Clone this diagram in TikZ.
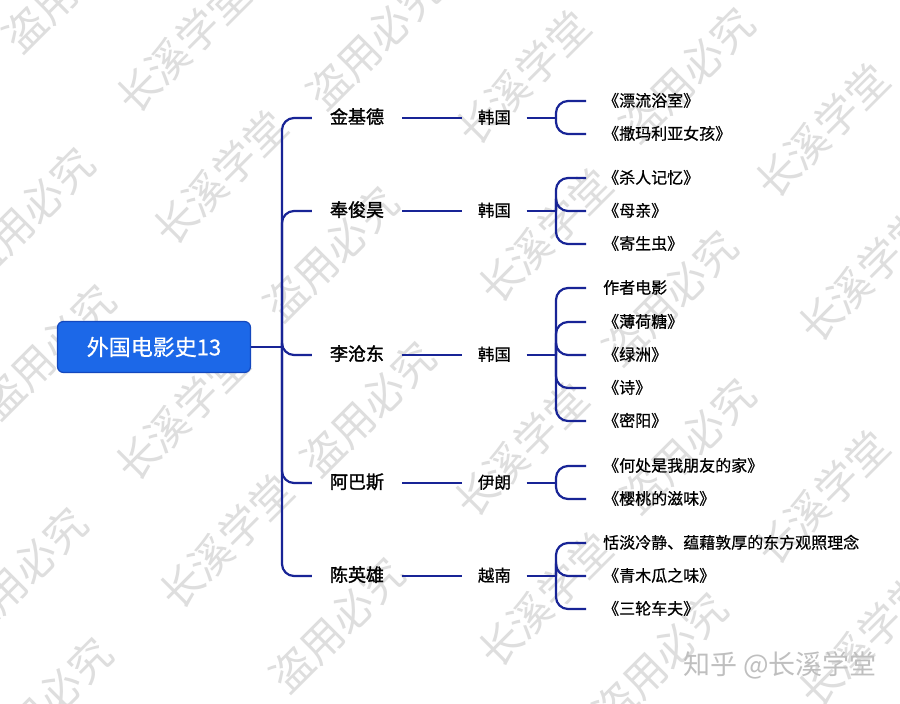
\documentclass[tikz,border=0pt]{standalone}
\usepackage{fontspec}
\setmainfont{Noto Sans CJK SC}
\newfontfamily\cjkbold[FakeBold=1.6]{Noto Sans CJK SC}
\newfontfamily\cjkmed[FakeBold=0.6]{Noto Sans CJK SC}
\usetikzlibrary{positioning}
\definecolor{mapline}{RGB}{24,36,150}
\definecolor{rootblue}{RGB}{28,104,232}
\definecolor{rootedge}{RGB}{20,72,190}
\tikzset{
  rootbox/.style={draw=rootedge,fill=rootblue,rounded corners=6pt,line width=1.2pt,
    text=white,font=\cjkmed\fontsize{22}{22}\selectfont,minimum width=193pt,minimum height=51pt,inner sep=0pt},
  person/.style={font=\cjkbold\fontsize{18}{18}\selectfont,inner xsep=18pt,inner ysep=0pt,
    text height=1.1em,text depth=0em},
  country/.style={font=\cjkmed\fontsize{16.5}{16.5}\selectfont,inner xsep=15.5pt,inner ysep=0pt,
    text height=1.1em,text depth=0em},
  film/.style={anchor=west,font=\cjkmed\fontsize{16}{16}\selectfont,inner xsep=17pt,inner ysep=0pt,
    text height=1.1em,text depth=0em},
  branch/.style={draw=mapline,line width=2.2pt,rounded corners=12pt},
  wm/.style={text=black!13,font=\fontsize{42}{42}\selectfont,rotate=45,inner sep=0pt}
}

\begin{document}
\begin{tikzpicture}[x=1pt,y=-1pt]
  \fill[white] (0,0) rectangle (900,704);
  \clip (0,0) rectangle (900,704);
  % watermark
  \foreach \x/\y in {183/46,220/178,182/414,226/542,523/78,545/236,822/131,865/275,
                     521/450,545/600,822/498,865/640}
    \node[wm] at (\x,\y) {长溪学堂};
  \foreach \x/\y in {70/-15,27/215,48/352,20/575,45/705,374/42,331/254,368/409,337/625,
                     687/75,670/298,688/446,660/660}
    \node[wm] at (\x,\y) {盗用必究};
  \node[text=black!25,font=\fontsize{27}{27}\selectfont] (zhihu) at (780,665) {知乎 @长溪学堂};

  % root and directors
  \node[rootbox] (root) at (154,347) {外国电影史13};
  \coordinate (hub) at (282,347);

  \node[person] (kim) at (357,118) {金基德};
  \node[country,right=60pt of kim] (kim-c) {韩国};
  \coordinate (kim-j) at (556,118);
  \node[film] (kim-1) at (586,101) {《漂流浴室》};
  \node[film] (kim-2) at (586,134) {《撒玛利亚女孩》};

  \node[person] (bong) at (357,211) {奉俊昊};
  \node[country,right=60pt of bong] (bong-c) {韩国};
  \coordinate (bong-j) at (556,211);
  \node[film] (bong-1) at (586,178) {《杀人记忆》};
  \node[film] (bong-2) at (586,211) {《母亲》};
  \node[film] (bong-3) at (586,244) {《寄生虫》};

  \node[person] (lee) at (357,355) {李沧东};
  \node[country,right=60pt of lee] (lee-c) {韩国};
  \coordinate (lee-j) at (556,355);
  \node[film] (lee-1) at (586,288) {作者电影};
  \node[film] (lee-2) at (586,322) {《薄荷糖》};
  \node[film] (lee-3) at (586,355) {《绿洲》};
  \node[film] (lee-4) at (586,388) {《诗》};
  \node[film] (lee-5) at (586,421) {《密阳》};

  \node[person] (abbas) at (357,483) {阿巴斯};
  \node[country,right=60pt of abbas] (abbas-c) {伊朗};
  \coordinate (abbas-j) at (556,483);
  \node[film] (abbas-1) at (586,466) {《何处是我朋友的家》};
  \node[film] (abbas-2) at (586,499) {《樱桃的滋味》};

  \node[person] (tran) at (357,576) {陈英雄};
  \node[country,right=60pt of tran] (tran-c) {越南};
  \coordinate (tran-j) at (556,576);
  \node[film] (tran-1) at (586,543) {恬淡冷静、蕴藉敦厚的东方观照理念};
  \node[film] (tran-2) at (586,576) {《青木瓜之味》};
  \node[film] (tran-3) at (586,609) {《三轮车夫》};

  % connectors
  \draw[branch] (root.east) -- (hub);
  \foreach \d in {kim,bong,lee,abbas,tran} {
    \draw[branch] (hub) |- (\d.west);
    \draw[branch] (\d.east) -- (\d-c.west);
    \draw[branch] (\d-c.east) -- (\d-j);
  }
  \foreach \f in {kim-1,kim-2} \draw[branch] (kim-j) |- (\f.west);
  \foreach \f in {bong-1,bong-2,bong-3} \draw[branch] (bong-j) |- (\f.west);
  \foreach \f in {lee-1,lee-2,lee-3,lee-4,lee-5} \draw[branch] (lee-j) |- (\f.west);
  \foreach \f in {abbas-1,abbas-2} \draw[branch] (abbas-j) |- (\f.west);
  \foreach \f in {tran-1,tran-2,tran-3} \draw[branch] (tran-j) |- (\f.west);
\end{tikzpicture}
\end{document}
